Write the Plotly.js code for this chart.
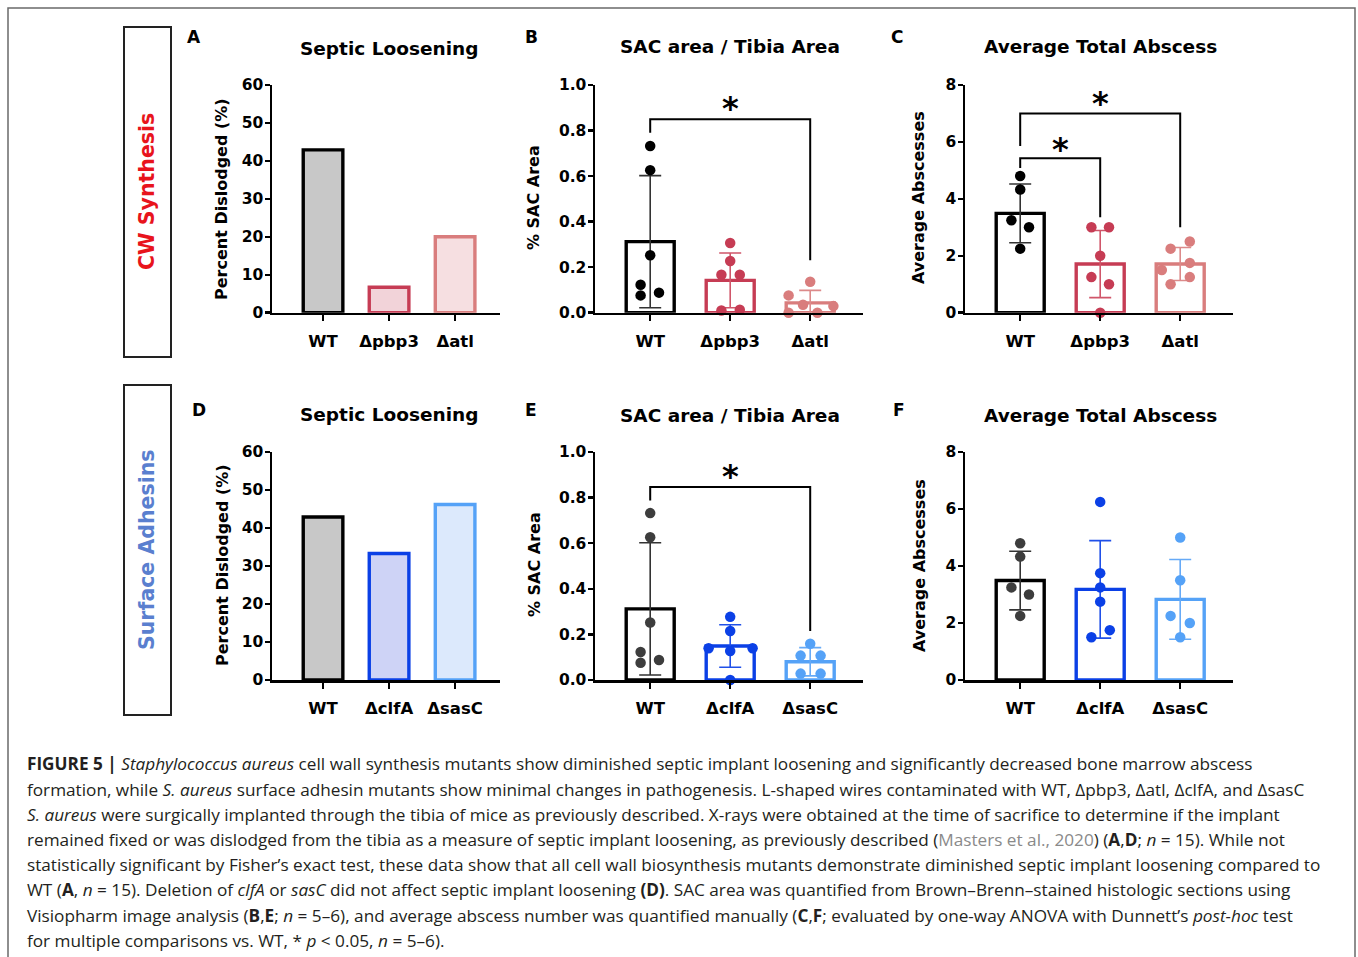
<!DOCTYPE html>
<html><head><meta charset="utf-8">
<script src="https://cdn.plot.ly/plotly-3.0.1.min.js"></script>
<style>html,body{margin:0;padding:0;background:#fff}</style>
</head><body><div id="chart" style="width:1358px;height:957px"></div>
<script>
// ---------- DATA ----------
const catsTop = ['WT', '\u0394pbp3', '\u0394atl'];
const catsBot = ['WT', '\u0394clfA', '\u0394sasC'];

// A / D : percent dislodged
const pctTop = [42.9, 6.7, 20.0];
const pctBot = [42.9, 33.3, 46.2];

// B : SAC area (top row)
const sacTopMean = [0.312, 0.142, 0.043];
const sacTopSD = [0.29, 0.12, 0.055];
const sacWT = [0.732, 0.626, 0.252, 0.123, 0.076, 0.088];
const sacWTJit = [0, 0, 0, -0.12, -0.12, 0.11];
const sacPbp3 = [0.306, 0.227, 0.167, 0.167, 0.010, 0.013];
const sacPbp3Jit = [0, 0, -0.11, 0.12, -0.11, 0.12];
const sacAtl = [0.136, 0.076, 0.035, 0.029, 0.0, 0.0];
const sacAtlJit = [0, -0.27, -0.09, 0.29, -0.27, 0.09];

// C : abscesses (top row)
const absTopMean = [3.49, 1.71, 1.71];
const absTopSD = [1.03, 1.18, 0.58];
const absWT = [4.8, 4.33, 3.25, 3.0, 2.25];
const absWTJit = [0, 0, -0.11, 0.11, 0];
const absPbp3 = [3.0, 3.0, 2.0, 1.25, 1.0, 0.0];
const absPbp3Jit = [-0.11, 0.11, 0, -0.11, 0.11, 0];
const absAtl = [2.5, 2.25, 1.75, 1.5, 1.25, 1.0];
const absAtlJit = [0.12, -0.12, 0.12, -0.23, 0.12, -0.12];

// E : SAC area (bottom row)
const sacBotMean = [0.312, 0.149, 0.080];
const sacBotSD = [0.29, 0.093, 0.062];
const sacClfA = [0.277, 0.215, 0.139, 0.139, 0.127, 0.0];
const sacClfAJit = [0, 0, -0.27, 0.28, 0, 0];
const sacSasC = [0.159, 0.107, 0.107, 0.028, 0.028];
const sacSasCJit = [0, -0.12, 0.13, -0.12, 0.13];

// F : abscesses (bottom row)
const absBotMean = [3.49, 3.18, 2.83];
const absBotSD = [1.03, 1.71, 1.40];
const absClfA = [6.25, 3.75, 3.25, 2.75, 1.75, 1.5];
const absClfAJit = [0, 0, 0, 0, 0.12, -0.11];
const absSasC = [5.0, 3.5, 2.25, 2.0, 1.5];
const absSasCJit = [0, 0, -0.12, 0.12, 0];

// ---------- STYLE ----------
const FONT = 'DejaVu Sans, Liberation Sans, Arial, sans-serif';
const W = 1358, H = 957;
const px = x => x / W;
const py = y => 1 - y / H;

const topLine = ['#000000', '#c63c54', '#d97d7d'];
const topFill = ['#c8c8c8', '#f2d3d9', '#f6dfe1'];
const topDot = ['#000000', '#c63c54', '#d97d7d'];
const botLine = ['#000000', '#0b40e6', '#55a2f7'];
const botFill = ['#c8c8c8', '#ced3f6', '#dce9fc'];
const botDot = ['#3d3d3d', '#0b40e6', '#55a2f7'];
const errTop = ['#333333', '#d0566a', '#dc8a8a'];
const errBot = ['#333333', '#2050e8', '#66aaf7'];

const traces = [];

function bars(xa, ya, vals, fills, lines, sds, errCols) {
  vals.forEach((v, i) => {
    const t = {
      type: 'bar', x: [i], y: [v], xaxis: xa, yaxis: ya, width: 0.6,
      marker: { color: fills[i], line: { color: lines[i], width: 3.4 } },
      hoverinfo: 'skip', showlegend: false
    };
    if (sds) {
      t.error_y = { type: 'data', array: [sds[i]], visible: true,
        color: errCols[i], thickness: 1.6, width: 11 };
    }
    traces.push(t);
  });
}
function dots(xa, ya, idx, vals, jit, color) {
  traces.push({
    type: 'scatter', mode: 'markers', xaxis: xa, yaxis: ya,
    x: vals.map((v, k) => idx + jit[k]), y: vals,
    marker: { color: color, size: 10.5, line: { width: 0 } },
    cliponaxis: false, hoverinfo: 'skip', showlegend: false
  });
}

// A
bars('x', 'y', pctTop, topFill, topLine, null, null);
// B
bars('x2', 'y2', sacTopMean, ['rgba(0,0,0,0)','rgba(0,0,0,0)','rgba(0,0,0,0)'], topLine, sacTopSD, errTop);
dots('x2', 'y2', 0, sacWT, sacWTJit, topDot[0]);
dots('x2', 'y2', 1, sacPbp3, sacPbp3Jit, topDot[1]);
dots('x2', 'y2', 2, sacAtl, sacAtlJit, topDot[2]);
// C
bars('x3', 'y3', absTopMean, ['rgba(0,0,0,0)','rgba(0,0,0,0)','rgba(0,0,0,0)'], topLine, absTopSD, errTop);
dots('x3', 'y3', 0, absWT, absWTJit, topDot[0]);
dots('x3', 'y3', 1, absPbp3, absPbp3Jit, topDot[1]);
dots('x3', 'y3', 2, absAtl, absAtlJit, topDot[2]);
// D
bars('x4', 'y4', pctBot, botFill, botLine, null, null);
// E
bars('x5', 'y5', sacBotMean, ['rgba(0,0,0,0)','rgba(0,0,0,0)','rgba(0,0,0,0)'], botLine, sacBotSD, errBot);
dots('x5', 'y5', 0, sacWT, sacWTJit, botDot[0]);
dots('x5', 'y5', 1, sacClfA, sacClfAJit, botDot[1]);
dots('x5', 'y5', 2, sacSasC, sacSasCJit, botDot[2]);
// F
bars('x6', 'y6', absBotMean, ['rgba(0,0,0,0)','rgba(0,0,0,0)','rgba(0,0,0,0)'], botLine, absBotSD, errBot);
dots('x6', 'y6', 0, absWT, absWTJit, botDot[0]);
dots('x6', 'y6', 1, absClfA, absClfAJit, botDot[1]);
dots('x6', 'y6', 2, absSasC, absSasCJit, botDot[2]);

// ---------- AXES ----------
function xAxis(x0, x1, r0, r1, anchor, cats) {
  return {
    domain: [px(x0), px(x1)], range: [r0, r1], anchor: anchor,
    tickmode: 'array', tickvals: [0, 1, 2], ticktext: cats,
    showline: true, linewidth: 2.5, linecolor: '#000',
    ticks: 'outside', ticklen: 6, tickwidth: 2.5, tickcolor: '#000',
    tickfont: { family: FONT, size: 16.5, color: '#000', weight: 'bold' },
    ticklabelstandoff: 6,
    showgrid: false, zeroline: false, fixedrange: true
  };
}
function yAxis(y0, y1, rmax, dtick, fmt, anchor) {
  return {
    domain: [py(y0), py(y1)], range: [0, rmax], anchor: anchor,
    tick0: 0, dtick: dtick, tickformat: fmt,
    showline: true, linewidth: 2.5, linecolor: '#000',
    ticks: 'outside', ticklen: 5, tickwidth: 2.5, tickcolor: '#000',
    tickfont: { family: FONT, size: 15.5, color: '#000', weight: 'bold' },
    ticklabelstandoff: -2,
    showgrid: false, zeroline: false, fixedrange: true
  };
}
const TOP0 = 312.7, TOP1 = 85, BOT0 = 680, BOT1 = 452;

// ---------- ANNOTATIONS ----------
const ann = [];
function txt(x, y, text, size, opts) {
  ann.push(Object.assign({
    xref: 'paper', yref: 'paper', x: px(x), y: py(y), text: text, showarrow: false,
    xanchor: 'center', yanchor: 'middle',
    font: { family: FONT, size: size, color: '#000', weight: 'bold' }
  }, opts || {}));
}
// panel letters
txt(194, 37, 'A', 17); txt(531, 37, 'B', 17); txt(897, 37, 'C', 17);
txt(199, 410, 'D', 17); txt(531, 410, 'E', 17); txt(899, 410, 'F', 17);
// titles
txt(389, 48, 'Septic Loosening', 18.5); txt(730, 47, 'SAC area / Tibia Area', 18.5); txt(1100, 47, 'Average Total Abscess', 18.5);
txt(389, 414, 'Septic Loosening', 18.5); txt(730, 415, 'SAC area / Tibia Area', 18.5); txt(1100, 415, 'Average Total Abscess', 18.5);
// y-axis titles
txt(222, 199, 'Percent Dislodged (%)', 16, { textangle: -90 });
txt(534, 198, '% SAC Area', 16, { textangle: -90 });
txt(919, 198, 'Average Abscesses', 16, { textangle: -90 });
txt(222, 565, 'Percent Dislodged (%)', 16, { textangle: -90 });
txt(534, 565, '% SAC Area', 16, { textangle: -90 });
txt(919, 566, 'Average Abscesses', 16, { textangle: -90 });
// row labels
txt(147, 192, 'CW Synthesis', 20.5, { textangle: -90, font: { family: FONT, size: 20.5, color: '#e8141c', weight: 'bold' } });
txt(147, 550, 'Surface Adhesins', 20.5, { textangle: -90, font: { family: FONT, size: 20.5, color: '#5a7fcf', weight: 'bold' } });

// significance asterisks (data coords)
function star(xr, yr, x, y) {
  ann.push({ xref: xr, yref: yr, x: x, y: y, text: '*', showarrow: false,
    xanchor: 'center', yanchor: 'middle', yshift: -5,
    font: { family: FONT, size: 32, color: '#000', weight: 'bold' } });
}
star('x2', 'y2', 1, 0.92);
star('x3', 'y3', 0.5, 5.92);
star('x3', 'y3', 1, 7.55);
star('x5', 'y5', 1, 0.915);

// caption
const CAP = 'Open Sans, Liberation Sans, Arial, sans-serif';
const capLines = [
  '<b>FIGURE 5 |</b> <i>Staphylococcus aureus</i> cell wall synthesis mutants show diminished septic implant loosening and significantly decreased bone marrow abscess',
  'formation, while <i>S. aureus</i> surface adhesin mutants show minimal changes in pathogenesis. L-shaped wires contaminated with WT, \u0394pbp3, \u0394atl, \u0394clfA, and \u0394sasC',
  '<i>S. aureus</i> were surgically implanted through the tibia of mice as previously described. X-rays were obtained at the time of sacrifice to determine if the implant',
  'remained fixed or was dislodged from the tibia as a measure of septic implant loosening, as previously described (<span style="color:#8a8a8a">Masters et al., 2020</span>) (<b>A</b>,<b>D</b>; <i>n</i> = 15). While not',
  'statistically significant by Fisher\u2019s exact test, these data show that all cell wall biosynthesis mutants demonstrate diminished septic implant loosening compared to',
  'WT (<b>A</b>, <i>n</i> = 15). Deletion of <i>clfA</i> or <i>sasC</i> did not affect septic implant loosening <b>(D)</b>. SAC area was quantified from Brown\u2013Brenn\u2013stained histologic sections using',
  'Visiopharm image analysis (<b>B</b>,<b>E</b>; <i>n</i> = 5\u20136), and average abscess number was quantified manually (<b>C</b>,<b>F</b>; evaluated by one-way ANOVA with Dunnett\u2019s <i>post-hoc</i> test',
  'for multiple comparisons vs. WT, * <i>p</i> &lt; 0.05, <i>n</i> = 5\u20136).'
];
const capY = [763, 789, 814, 839, 864, 889, 915, 940];
capLines.forEach((t, i) => {
  ann.push({ xref: 'paper', yref: 'paper', x: px(25), y: py(capY[i]), text: t, showarrow: false,
    xanchor: 'left', yanchor: 'middle', align: 'left',
    font: { family: CAP, size: 17.2, color: '#231f20' } });
});

// ---------- SHAPES ----------
const shapes = [
  { type: 'rect', xref: 'paper', yref: 'paper', x0: px(8), x1: px(1355), y0: py(990), y1: py(8),
    line: { color: '#6a6a6a', width: 1.5 } },
  { type: 'rect', xref: 'paper', yref: 'paper', x0: px(124), x1: px(171), y0: py(357), y1: py(27),
    line: { color: '#222', width: 2 } },
  { type: 'rect', xref: 'paper', yref: 'paper', x0: px(124), x1: px(171), y0: py(715), y1: py(385),
    line: { color: '#222', width: 2 } },
  // significance brackets
  { type: 'path', xref: 'x2', yref: 'y2', path: 'M0,0.79 L0,0.85 L2,0.85 L2,0.23', line: { color: '#000', width: 2 } },
  { type: 'path', xref: 'x3', yref: 'y3', path: 'M0,5.08 L0,5.43 L1,5.43 L1,3.35', line: { color: '#000', width: 2 } },
  { type: 'path', xref: 'x3', yref: 'y3', path: 'M0,5.86 L0,7.0 L2,7.0 L2,3.0', line: { color: '#000', width: 2 } },
  { type: 'path', xref: 'x5', yref: 'y5', path: 'M0,0.787 L0,0.847 L2,0.847 L2,0.215', line: { color: '#000', width: 2 } }
];

const layout = {
  width: W, height: H, margin: { l: 0, r: 0, t: 0, b: 0 },
  paper_bgcolor: '#fff', plot_bgcolor: 'rgba(0,0,0,0)', showlegend: false,
  barmode: 'overlay',
  xaxis: xAxis(272, 500, -0.773, 2.68, 'y', catsTop),
  yaxis: yAxis(TOP0, TOP1, 60, 10, 'd', 'x'),
  xaxis2: xAxis(595, 863, -0.69, 2.66, 'y2', catsTop),
  yaxis2: yAxis(TOP0, TOP1, 1.0, 0.2, '.1f', 'x2'),
  xaxis3: xAxis(965, 1233, -0.69, 2.66, 'y3', catsTop),
  yaxis3: yAxis(TOP0, TOP1, 8, 2, 'd', 'x3'),
  xaxis4: xAxis(272, 500, -0.773, 2.68, 'y4', catsBot),
  yaxis4: yAxis(BOT0, BOT1, 60, 10, 'd', 'x4'),
  xaxis5: xAxis(595, 863, -0.69, 2.66, 'y5', catsBot),
  yaxis5: yAxis(BOT0, BOT1, 1.0, 0.2, '.1f', 'x5'),
  xaxis6: xAxis(965, 1233, -0.69, 2.66, 'y6', catsBot),
  yaxis6: yAxis(BOT0, BOT1, 8, 2, 'd', 'x6'),
  annotations: ann, shapes: shapes
};

Plotly.newPlot('chart', traces, layout, { staticPlot: true, displayModeBar: false });
</script></body></html>
